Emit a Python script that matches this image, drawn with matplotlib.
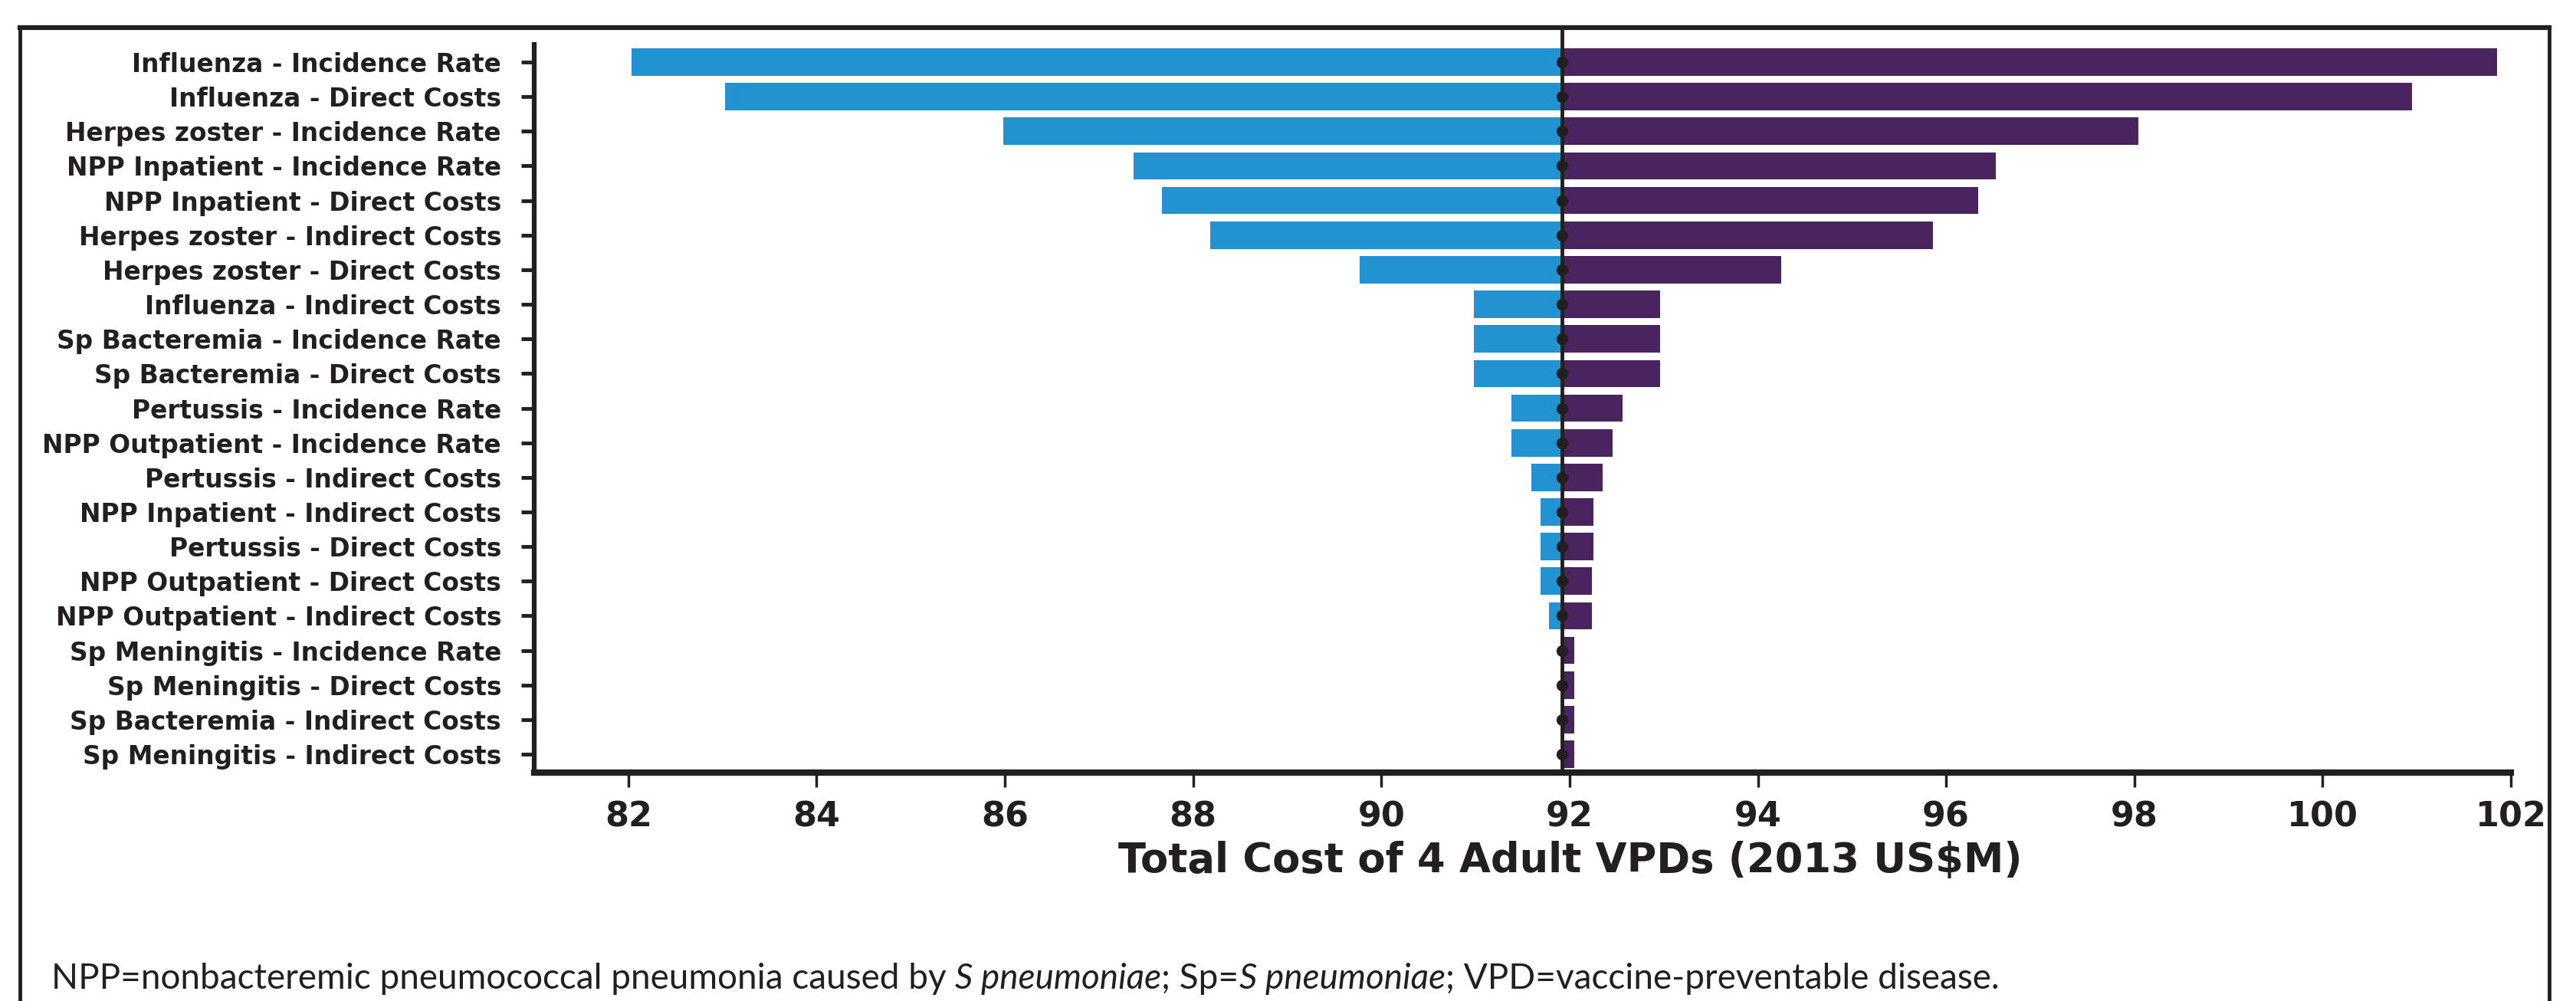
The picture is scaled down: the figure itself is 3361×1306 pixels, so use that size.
import matplotlib
matplotlib.use('Agg')
import matplotlib.pyplot as plt
from matplotlib.lines import Line2D
from matplotlib import font_manager

labels = ['Influenza - Incidence Rate', 'Influenza - Direct Costs',
          'Herpes zoster - Incidence Rate', 'NPP Inpatient - Incidence Rate',
          'NPP Inpatient - Direct Costs', 'Herpes zoster - Indirect Costs',
          'Herpes zoster - Direct Costs', 'Influenza - Indirect Costs',
          'Sp Bacteremia - Incidence Rate', 'Sp Bacteremia - Direct Costs',
          'Pertussis - Incidence Rate', 'NPP Outpatient - Incidence Rate',
          'Pertussis - Indirect Costs', 'NPP Inpatient - Indirect Costs',
          'Pertussis - Direct Costs', 'NPP Outpatient - Direct Costs',
          'NPP Outpatient - Indirect Costs', 'Sp Meningitis - Incidence Rate',
          'Sp Meningitis - Direct Costs', 'Sp Bacteremia - Indirect Costs',
          'Sp Meningitis - Indirect Costs']
low = [82.03, 83.03, 85.98, 87.37, 87.67, 88.18, 89.77, 90.98, 90.98, 90.98, 91.38,
       91.38, 91.59, 91.69, 91.69, 91.69, 91.78, 91.91, 91.91, 91.91, 91.91]
high = [101.85, 100.95, 98.04, 96.53, 96.34, 95.86, 94.25, 92.96, 92.96, 92.96, 92.56,
        92.46, 92.35, 92.25, 92.25, 92.24, 92.24, 92.05, 92.05, 92.05, 92.05]
base = 91.92
xticks = [82, 84, 86, 88, 90, 92, 94, 96, 98, 100, 102]

# footnote pieces: (text, italic?)
footnote = [('NPP=nonbacteremic pneumococcal pneumonia caused by ', False),
            ('S pneumoniae', True), ('; Sp=', False), ('S pneumoniae', True),
            ('; VPD=vaccine-preventable disease.', False)]

blue = '#2293D0'
purple = '#4A245E'
dark = '#231F20'

plt.rcParams['font.family'] = 'DejaVu Sans'

fig = plt.figure(figsize=(33.61, 13.06), dpi=100)
ax = fig.add_axes([0.2074, 0.2282, 0.7673, 0.7274])

y = list(range(len(labels)))
ax.barh(y, [base - v for v in low], left=low, height=0.79, color=blue)
ax.barh(y, [v - base for v in high], left=base, height=0.79, color=purple)
ax.plot([base, base], [20.53, -0.88], color=dark, lw=3.5, clip_on=False, zorder=3)
ax.plot([base] * len(y), y, 'o', color=dark, ms=10, zorder=4)

ax.set_xlim(81, 102)
ax.set_ylim(20.53, -0.51)
ax.set_yticks(y)
ax.set_yticklabels(labels, fontsize=23.7, fontweight='bold')
ax.set_xticks(xticks)
ax.set_xticklabels([str(t) for t in xticks], fontsize=32, fontweight='bold')
ax.tick_params(axis='y', length=12, width=3.5, pad=19, colors=dark)
ax.tick_params(axis='x', length=14, width=2.5, pad=12, colors=dark)

for s in ['top', 'right']:
    ax.spines[s].set_visible(False)
ax.spines['left'].set_linewidth(4.5)
ax.spines['bottom'].set_linewidth(6)
ax.spines['left'].set_color(dark)
ax.spines['bottom'].set_color(dark)

ax.set_xlabel('Total Cost of 4 Adult VPDs (2013 US$M)', fontsize=38, fontweight='bold', color=dark)
ax.xaxis.set_label_coords(0.524, -0.094)

# frame around the figure panel
x0, x1, yt = 26 / 3361, 3326 / 3361, 1 - 36 / 1306
fig.add_artist(Line2D([x0, x1], [yt, yt], color=dark, lw=4.5))
fig.add_artist(Line2D([x0, x0], [0, yt], color=dark, lw=3.5))
fig.add_artist(Line2D([x1, x1], [0, yt], color=dark, lw=3.5))

# footnote, written piece by piece so the species name can be italic
fam = 'Lato' if 'Lato' in {f.name for f in font_manager.fontManager.ttflist} else 'DejaVu Sans'
renderer = fig.canvas.get_renderer()
xpos = 67 / 3361
for txt, ital in footnote:
    t = fig.text(xpos, 1 - 1290 / 1306, txt, fontsize=33, color=dark, family=fam,
                 style='italic' if ital else 'normal', ha='left', va='baseline')
    bb = t.get_window_extent(renderer)
    xpos += bb.width / fig.bbox.width

fig.savefig('out.png', dpi=100)
